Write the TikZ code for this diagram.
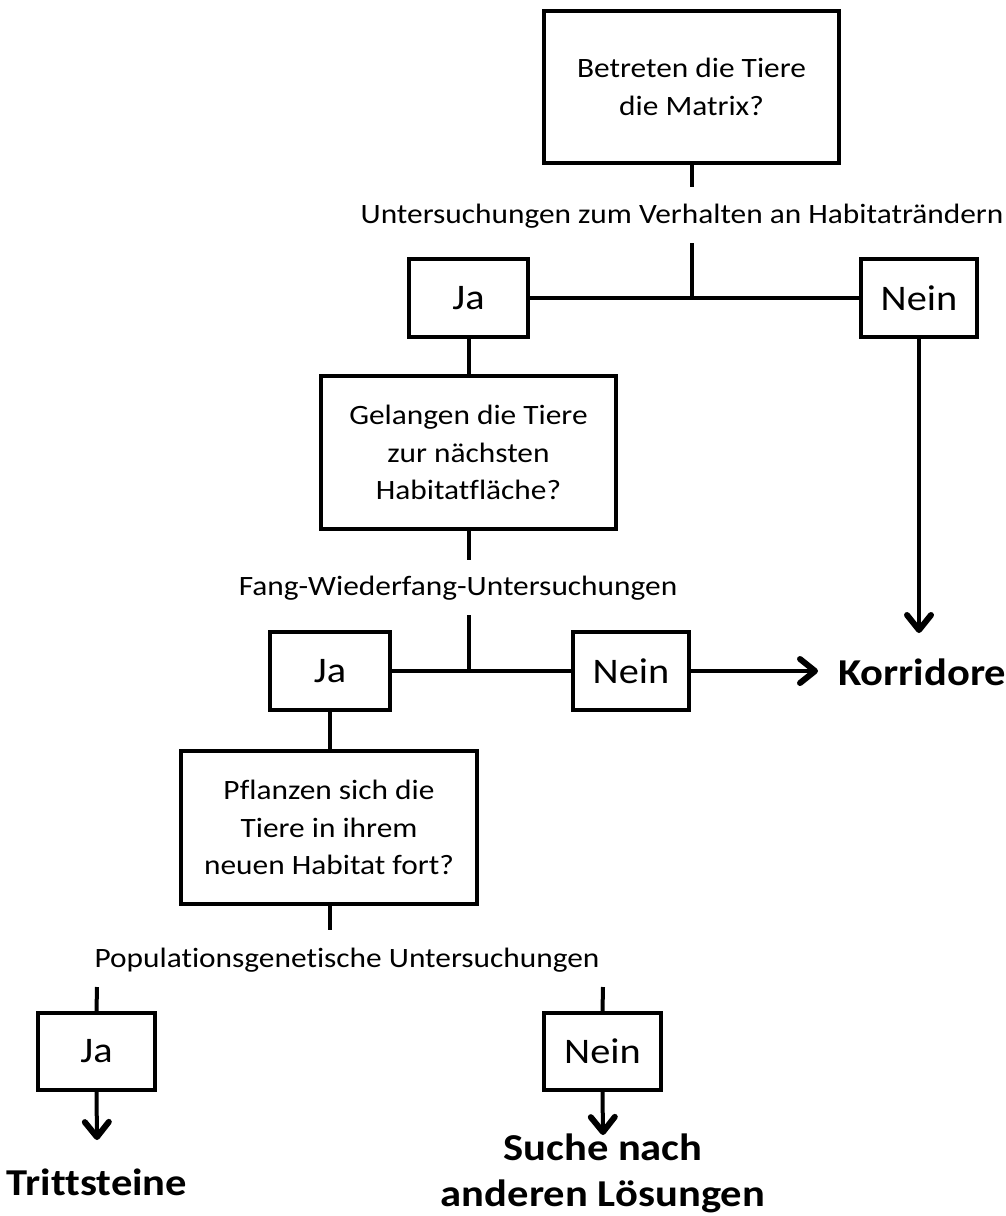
\documentclass[tikz,border=0pt]{standalone}
\usepackage{fontspec}
\setmainfont{Carlito}[FakeStretch=1.12,Ligatures=NoCommon]
\usetikzlibrary{arrows.meta}

\begin{document}
\begin{tikzpicture}[x=1pt,y=1pt,yscale=-1,xscale=1,
  box/.style={draw,line width=4pt,inner sep=0pt,align=center,font=\fontsize{28}{37.5}\selectfont},
  jn/.style={box,font=\fontsize{36}{40}\selectfont},
  lab/.style={inner sep=0pt,font=\fontsize{28}{37.5}\selectfont},
  res/.style={inner sep=0pt,align=center,font=\fontsize{38}{46}\selectfont\bfseries},
  ln/.style={line width=4pt},
  arr/.style={line width=4pt,-{Straight Barb[length=15pt,width=24pt,line width=6pt,round]}}]
\useasboundingbox (0,0) rectangle (1006,1216);
\node [box,minimum width=295pt,minimum height=152pt] (frage1) at (691.5,87) {Betreten die Tiere\\die Matrix?};
\node [lab] (unters1) at (682,216) {Untersuchungen zum Verhalten an Habitaträndern};
\node [jn,minimum width=119pt,minimum height=78pt] (ja1) at (468.5,298) {Ja};
\node [jn,minimum width=116pt,minimum height=78pt] (nein1) at (919,298) {Nein};
\node [box,minimum width=295pt,minimum height=153pt] (frage2) at (468.5,452.5) {Gelangen die Tiere\\zur nächsten\\Habitatfläche?};
\node [lab] (unters2) at (458,588) {Fang-Wiederfang-Untersuchungen};
\node [jn,minimum width=120pt,minimum height=78pt] (ja2) at (330,671) {Ja};
\node [jn,minimum width=116pt,minimum height=78pt] (nein2) at (631,671) {Nein};
\node [res,anchor=west] (korridore) at (838,672) {Korridore};
\node [box,minimum width=296pt,minimum height=153pt] (frage3) at (329,827.5) {Pflanzen sich die\\Tiere in ihrem\\neuen Habitat fort?};
\node [lab] (unters3) at (347,960) {Populationsgenetische Untersuchungen};
\node [jn,minimum width=117pt,minimum height=77pt] (ja3) at (96.5,1051.5) {Ja};
\node [jn,minimum width=117pt,minimum height=77pt] (nein3) at (602.5,1051.5) {Nein};
\node [res] (trittsteine) at (97,1182) {Trittsteine};
\node [res] (suche) at (603,1173) {Suche nach\\anderen Lösungen};
\coordinate (s1a) at (692,187);
\coordinate (s1b) at (692,243);
\coordinate (j1) at (692,298);
\coordinate (k1) at (919,633);
\coordinate (s2a) at (469,560);
\coordinate (s2b) at (469,615);
\coordinate (j2) at (469,671);
\coordinate (k2) at (818,671);
\coordinate (s3a) at (330,930);
\coordinate (s3b) at (97,987);
\coordinate (s3c) at (603,987);
\coordinate (t1) at (97,1140);
\coordinate (t2) at (603,1135);
\draw [ln] (frage1.south -| s1a) -- (s1a);
\draw [ln] (s1b) -- (j1);
\draw [ln] (ja1.east) -- (nein1.west);
\draw [arr] (nein1.south) -- (k1);
\draw [ln] (ja1.south) -- (ja1.south |- frage2.north);
\draw [ln] (frage2.south -| s2a) -- (s2a);
\draw [ln] (s2b) -- (j2);
\draw [ln] (ja2.east) -- (nein2.west);
\draw [arr] (nein2.east) -- (k2);
\draw [ln] (ja2.south) -- (ja2.south |- frage3.north);
\draw [ln] (frage3.south -| s3a) -- (s3a);
\draw [ln] (s3b) -- (ja3.north);
\draw [ln] (s3c) -- (nein3.north);
\draw [arr] (ja3.south) -- (t1);
\draw [arr] (nein3.south) -- (t2);
\end{tikzpicture}
\end{document}
